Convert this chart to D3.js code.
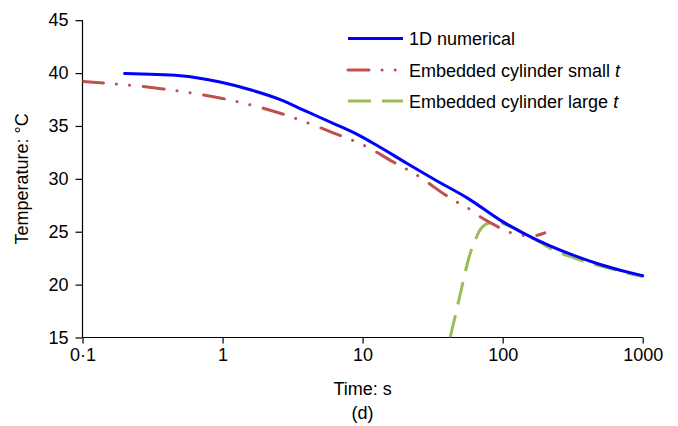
<!DOCTYPE html>
<html><head><meta charset="utf-8">
<script src="https://cdn.jsdelivr.net/npm/d3@7"></script>
<style>body{margin:0;background:#fff} text{font-family:"Liberation Sans",Arial,sans-serif;fill:#000}</style>
</head><body><svg id="c" width="678" height="426"></svg>
<script>
// ---- data ----
const xTicks = [0.1, 1, 10, 100, 1000];
const xTickLabels = ["0·1", "1", "10", "100", "1000"];
const yTicks = [15, 20, 25, 30, 35, 40, 45];

const numTime = [0.2, 0.5, 0.96, 1.65, 2.58, 4.01, 6.16, 9.14, 12.7, 20.8, 34.0, 55.8, 96, 165, 289, 497, 960, 1000];
const numTemp = [39.95, 39.75, 39.15, 38.35, 37.5, 36.35, 35.25, 34.2, 33.15, 31.45, 29.8, 28.2, 26.1, 24.4, 23.0, 21.9, 20.9, 20.85];

const smallTime = [0.1, 0.376, 1.0, 2.58, 6.6, 10.1, 11.9, 16.5, 20.1, 24.1, 28.8, 38.8, 45.8, 55.7, 65.7, 91.4, 109, 133, 162, 200];
const smallTemp = [39.2, 38.5, 37.6, 36.2, 34.2, 33.2, 32.7, 31.6, 31.0, 30.4, 29.7, 28.5, 27.9, 27.3, 26.6, 25.5, 25.0, 24.7, 24.6, 24.9];

const largeTime = [42.2, 45.8, 51.2, 57, 63.6, 71, 81.5, 95, 100, 140, 185, 229, 319, 401, 557, 960, 1000];
const largeTemp = [15.0, 17.0, 19.8, 22.4, 24.2, 25.4, 25.85, 25.9, 25.8, 24.9, 24.0, 23.3, 22.55, 22.1, 21.6, 20.8, 20.75];

const seriesNames = ["1D numerical", "Embedded cylinder small ", "Embedded cylinder large "];

// ---- drawing ----
const svg = d3.select("#c");
const x = d3.scaleLog().domain([0.1, 1000]).range([82.5, 642.7]);
const y = d3.scaleLinear().domain([15, 45]).range([337.5, 20.2]);

const xAxis = d3.axisBottom(x).tickValues(xTicks).tickFormat((d, i) => xTickLabels[i]).tickSize(6).tickPadding(5);
const yAxis = d3.axisLeft(y).tickValues(yTicks).tickFormat(d3.format("d")).tickSize(7).tickPadding(7);

const gx = svg.append("g").attr("transform", "translate(0,337.5)").call(xAxis);
const gy = svg.append("g").attr("transform", "translate(82.5,0)").call(yAxis);
[gx, gy].forEach(g => {
  g.select(".domain").attr("stroke", "#000").attr("stroke-width", 1.2);
  g.selectAll(".tick line").attr("stroke", "#000").attr("stroke-width", 1.2);
  g.selectAll(".tick text").attr("font-size", 18).attr("font-family", "Liberation Sans, Arial, sans-serif").attr("fill", "#000");
});
gx.select(".domain").attr("d", "M82.5,0H642.7");
gy.select(".domain").attr("d", "M0,20.2V337.5");

const line = d3.line().x(d => x(d[0])).y(d => y(d[1])).curve(d3.curveMonotoneX);
const zip = (a, b) => a.map((v, i) => [v, b[i]]);

const styles = [
  {color: "#0000FF", dash: null, cap: "round", w: 3},
  {color: "#C0504D", dash: "21,13,0.1,13,0.1,13.8", cap: "round", w: 3},
  {color: "#9BBB59", dash: "23,11", cap: "butt", w: 3}
];
const data = [zip(numTime, numTemp), zip(smallTime, smallTemp), zip(largeTime, largeTemp)];

svg.append("clipPath").attr("id", "pc").append("rect")
  .attr("x", 82.5).attr("y", 0).attr("width", 570).attr("height", 337.5);

// draw green, red, then blue on top
[2, 1, 0].forEach(i => {
  svg.append("path").attr("d", line(data[i])).attr("fill", "none")
    .attr("clip-path", "url(#pc)")
    .attr("stroke", styles[i].color).attr("stroke-width", styles[i].w)
    .attr("stroke-linecap", styles[i].cap).attr("stroke-linejoin", "round")
    .attr("stroke-dasharray", styles[i].dash);
});

// legend
const legY = [38.5, 70, 101];
seriesNames.forEach((n, i) => {
  svg.append("line").attr("x1", 348).attr("x2", 403).attr("y1", legY[i]).attr("y2", legY[i])
    .attr("stroke", styles[i].color).attr("stroke-width", 3)
    .attr("stroke-linecap", i === 1 ? "round" : "butt")
    .attr("stroke-dasharray", styles[i].dash);
  const t = svg.append("text").attr("x", 409).attr("y", legY[i] + 6.5).attr("font-size", 18);
  t.append("tspan").text(n);
  if (i > 0) t.append("tspan").attr("font-style", "italic").text("t");
});

// axis titles
svg.append("text").attr("x", 362.6).attr("y", 394.5).attr("text-anchor", "middle").attr("font-size", 18).text("Time: s");
svg.append("text").attr("x", 362.6).attr("y", 419).attr("text-anchor", "middle").attr("font-size", 18).text("(d)");
svg.append("text").attr("transform", "translate(28,178.8) rotate(-90)").attr("text-anchor", "middle").attr("font-size", 18).text("Temperature: °C");
</script></body></html>
